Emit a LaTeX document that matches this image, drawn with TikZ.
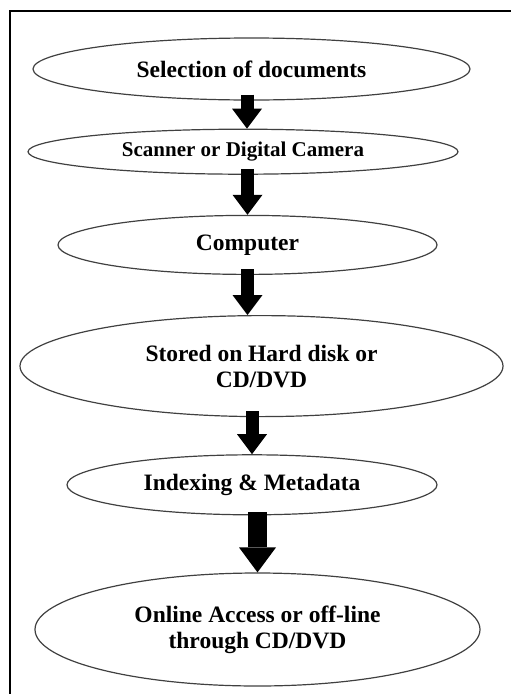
\documentclass[tikz,border=0pt]{standalone}
\usepackage{fontspec}
\setmainfont{Liberation Serif}
\usepackage{tikz}
\usetikzlibrary{positioning, arrows.meta, shapes.geometric}

\begin{document}
\begin{tikzpicture}[x=1pt, y=-1pt,
            every node/.style={font=\bfseries\fontsize{23.5}{26}\selectfont},
            stage/.style={ellipse, draw=black!75, line width=1.2pt,
            inner sep=0pt, align=center},
            flow/.style={line width=13pt, shorten <=-6pt,
            -{Triangle[length=20pt, width=30pt, line width=0pt]}},
            bigflow/.style={line width=19pt, shorten <=-3pt,
            -{Triangle[length=25pt, width=37pt, line width=0pt]}}]
          \useasboundingbox (0,0) rectangle (511,694);
          \draw[line width=2.5pt] (511,11) -- (10,11) -- (10,694);

          \node[stage, minimum width=437pt, minimum height=62pt] (sel) at (251.5,69)
            {Selection of documents};
          \node[stage, minimum width=430pt, minimum height=45pt, below=28pt of sel,
            xshift=-8.5pt, font=\bfseries\fontsize{21}{24}\selectfont] (scan)
            {Scanner or Digital Camera};
          \node[stage, minimum width=379pt, minimum height=59pt, below=40pt of scan,
            xshift=4.5pt] (comp) {Computer};
          \node[stage, minimum width=483pt, minimum height=101pt, below=40pt of comp,
            xshift=14pt] (store) {Stored on Hard disk or\\CD/DVD};
          \node[stage, minimum width=370pt, minimum height=60pt, below=37pt of store,
            xshift=-9.5pt] (index) {Indexing \& Metadata};
          \node[stage, minimum width=445pt, minimum height=113pt, below=57pt of index,
            xshift=5.5pt] (online) {Online Access or off-line\\through CD/DVD};

          \draw[flow] ([xshift=4pt]scan.north |- sel.south) -- ([xshift=4pt]scan.north);
          \draw[flow] (comp.north |- scan.south) -- (comp.north);
          \draw[flow] (comp.south) -- (comp.south |- store.north);
          \draw[flow] (index.north |- store.south) -- (index.north);
          \draw[bigflow] (online.north |- index.south) -- (online.north);
        \end{tikzpicture}
\end{document}
